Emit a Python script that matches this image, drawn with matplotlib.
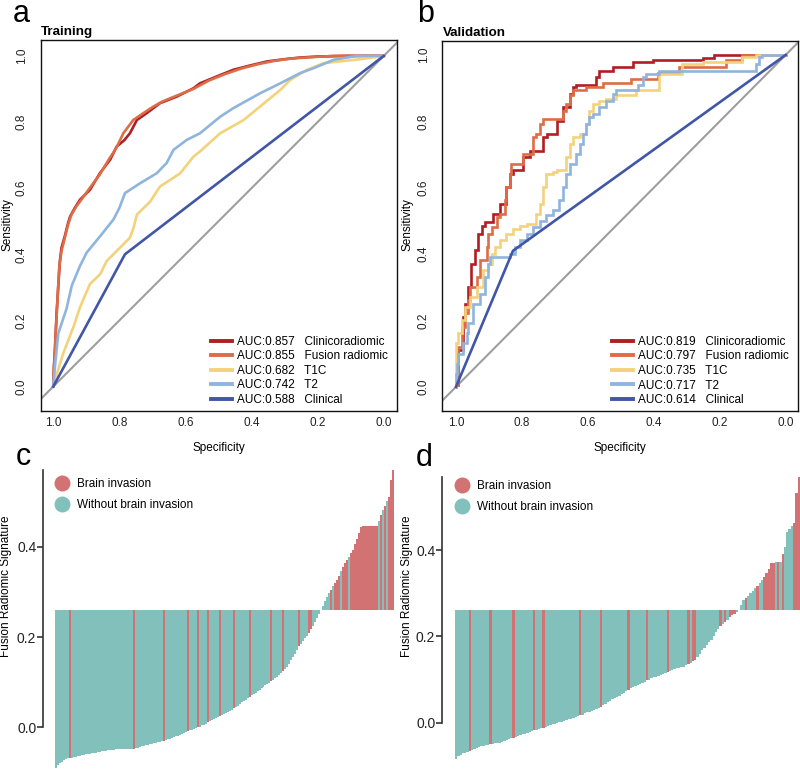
import numpy as np
import matplotlib
matplotlib.use("Agg")
import matplotlib.pyplot as plt
from matplotlib.lines import Line2D

plt.rcParams['font.family'] = ['Liberation Sans', 'DejaVu Sans']

# ---------------- ROC data (specificity, sensitivity) ----------------
roc_names = ["Clinicoradiomic", "Fusion radiomic", "T1C", "T2", "Clinical"]
roc_colors = ["#B01E23", "#DE6D47", "#F2D27B", "#8FB5DE", "#4156A6"]

train_auc = [0.857, 0.855, 0.682, 0.742, 0.588]
valid_auc = [0.819, 0.797, 0.735, 0.717, 0.614]

tr_clinrad_spec = [1.0, 0.998, 0.995, 0.99, 0.985, 0.98, 0.975, 0.965, 0.955, 0.949,
                   0.935, 0.919, 0.889, 0.859, 0.828, 0.808, 0.785, 0.768, 0.747, 0.717,
                   0.677, 0.626, 0.576, 0.556, 0.5, 0.455, 0.4, 0.354, 0.3, 0.253,
                   0.2, 0.111, 0.0]
tr_clinrad_sens = [0.0, 0.06, 0.11, 0.22, 0.3, 0.38, 0.42, 0.455, 0.495, 0.514,
                   0.54, 0.565, 0.595, 0.645, 0.686, 0.726, 0.745, 0.766, 0.806, 0.827,
                   0.857, 0.877, 0.902, 0.917, 0.94, 0.958, 0.972, 0.983, 0.99, 0.995,
                   0.998, 1.0, 1.0]
tr_fusion_spec = [1.0, 0.997, 0.993, 0.988, 0.982, 0.975, 0.965, 0.955, 0.945, 0.93,
                  0.915, 0.89, 0.86, 0.83, 0.81, 0.788, 0.758, 0.73, 0.7, 0.67,
                  0.626, 0.576, 0.53, 0.48, 0.43, 0.38, 0.33, 0.28, 0.22, 0.15,
                  0.08, 0.0]
tr_fusion_sens = [0.0, 0.07, 0.15, 0.25, 0.36, 0.41, 0.45, 0.49, 0.52, 0.545,
                  0.565, 0.6, 0.64, 0.69, 0.72, 0.766, 0.806, 0.825, 0.845, 0.862,
                  0.88, 0.9, 0.925, 0.945, 0.962, 0.975, 0.985, 0.992, 0.996, 1.0,
                  1.0, 1.0]
tr_t1c_spec = [1.0, 0.995, 0.97, 0.939, 0.919, 0.889, 0.858, 0.838, 0.798, 0.768,
               0.757, 0.747, 0.707, 0.677, 0.646, 0.616, 0.576, 0.556, 0.495, 0.424,
               0.374, 0.313, 0.283, 0.232, 0.182, 0.07, 0.0]
tr_t1c_sens = [0.0, 0.02, 0.1, 0.18, 0.24, 0.31, 0.34, 0.38, 0.42, 0.45,
               0.48, 0.52, 0.559, 0.605, 0.625, 0.645, 0.695, 0.711, 0.766, 0.806,
               0.847, 0.897, 0.927, 0.958, 0.978, 0.99, 1.0]
tr_t2_spec = [1.0, 0.995, 0.985, 0.96, 0.944, 0.919, 0.899, 0.858, 0.818, 0.8,
              0.783, 0.737, 0.687, 0.657, 0.636, 0.596, 0.556, 0.495, 0.455, 0.374,
              0.313, 0.253, 0.212, 0.152, 0.081, 0.0]
tr_t2_sens = [0.0, 0.06, 0.16, 0.235, 0.305, 0.365, 0.405, 0.455, 0.505, 0.54,
              0.585, 0.615, 0.645, 0.676, 0.716, 0.746, 0.766, 0.816, 0.842, 0.887,
              0.917, 0.948, 0.963, 0.988, 1.0, 1.0]
tr_clin_spec = [1.0, 0.783, 0.0]
tr_clin_sens = [0.0, 0.40, 1.0]

va_clinrad_spec = [1.0, 0.993, 0.978, 0.973, 0.963, 0.953, 0.943, 0.933, 0.922, 0.912,
                   0.887, 0.867, 0.867, 0.847, 0.837, 0.827, 0.796, 0.776, 0.736, 0.725,
                   0.695, 0.675, 0.655, 0.645, 0.635, 0.575, 0.565, 0.524, 0.464, 0.403,
                   0.252, 0.217, 0.096, 0.0]
va_clinrad_sens = [0.0, 0.005, 0.11, 0.21, 0.25, 0.30, 0.371, 0.411, 0.461, 0.486,
                   0.496, 0.522, 0.547, 0.552, 0.602, 0.642, 0.652, 0.692, 0.712, 0.752,
                   0.762, 0.802, 0.842, 0.883, 0.903, 0.908, 0.935, 0.953, 0.965, 0.978,
                   0.985, 0.99, 1.0, 1.0]
va_fusion_spec = [1.0, 0.993, 0.983, 0.973, 0.963, 0.958, 0.937, 0.927, 0.907, 0.902,
                  0.892, 0.877, 0.867, 0.852, 0.847, 0.837, 0.832, 0.796, 0.766, 0.756,
                  0.746, 0.736, 0.675, 0.665, 0.655, 0.645, 0.605, 0.555, 0.544, 0.469,
                  0.454, 0.388, 0.323, 0.253, 0.181, 0.131, 0.04, 0.0]
va_fusion_sens = [0.0, 0.005, 0.12, 0.18, 0.221, 0.261, 0.301, 0.331, 0.381, 0.421,
                  0.461, 0.481, 0.511, 0.522, 0.562, 0.602, 0.642, 0.672, 0.702, 0.752,
                  0.762, 0.792, 0.807, 0.832, 0.853, 0.878, 0.893, 0.903, 0.915, 0.915,
                  0.928, 0.928, 0.947, 0.963, 0.963, 0.985, 1.0, 1.0]
va_t1c_spec = [1.0, 0.993, 0.983, 0.973, 0.958, 0.937, 0.917, 0.902, 0.892, 0.882,
               0.867, 0.847, 0.827, 0.806, 0.786, 0.756, 0.746, 0.736, 0.726, 0.706,
               0.695, 0.665, 0.655, 0.645, 0.625, 0.605, 0.595, 0.585, 0.565, 0.544,
               0.514, 0.454, 0.449, 0.383, 0.383, 0.313, 0.252, 0.131, 0.091, 0.04,
               0.0]
va_t1c_sens = [0.0, 0.131, 0.161, 0.201, 0.241, 0.271, 0.301, 0.351, 0.371, 0.401,
               0.421, 0.441, 0.461, 0.476, 0.486, 0.491, 0.522, 0.552, 0.602, 0.642,
               0.647, 0.652, 0.692, 0.732, 0.752, 0.762, 0.792, 0.832, 0.853, 0.862,
               0.868, 0.878, 0.893, 0.893, 0.928, 0.943, 0.973, 0.978, 0.993, 1.0,
               1.0]
va_t2_spec = [1.0, 0.998, 0.993, 0.978, 0.968, 0.963, 0.948, 0.927, 0.912, 0.902,
              0.897, 0.857, 0.837, 0.821, 0.806, 0.786, 0.766, 0.746, 0.726, 0.706,
              0.686, 0.675, 0.665, 0.655, 0.635, 0.625, 0.615, 0.605, 0.595, 0.585,
              0.565, 0.544, 0.524, 0.514, 0.449, 0.434, 0.423, 0.383, 0.323, 0.091,
              0.081, 0.071, 0.02, 0.0]
va_t2_sens = [0.0, 0.04, 0.07, 0.1, 0.131, 0.161, 0.191, 0.251, 0.281, 0.331,
              0.371, 0.391, 0.391, 0.401, 0.421, 0.441, 0.461, 0.481, 0.501, 0.517,
              0.532, 0.562, 0.602, 0.642, 0.672, 0.702, 0.732, 0.762, 0.792, 0.812,
              0.822, 0.842, 0.862, 0.883, 0.893, 0.908, 0.933, 0.943, 0.953, 0.953,
              0.973, 0.993, 1.0, 1.0]
va_clin_spec = [1.0, 0.827, 0.0]
va_clin_sens = [0.0, 0.41, 1.0]

roc_ticks = [1.0, 0.8, 0.6, 0.4, 0.2, 0.0]

# ---------------- Waterfall data ----------------
legend_groups = ["Brain invasion", "Without brain invasion"]
wf_colors = ["#D27272", "#82C0BC"]

train_cutoff = 0.26
train_score = [
    -0.091, -0.084, -0.079, -0.076, -0.073, -0.071, -0.069, -0.068, -0.067, -0.066,
    -0.065, -0.064, -0.063, -0.062, -0.061, -0.060, -0.060, -0.059, -0.058, -0.057,
    -0.056, -0.055, -0.054, -0.053, -0.052, -0.052, -0.051, -0.051, -0.050, -0.050,
    -0.049, -0.049, -0.049, -0.049, -0.049, -0.049, -0.049, -0.049, -0.048, -0.047,
    -0.046, -0.045, -0.043, -0.042, -0.041, -0.040, -0.039, -0.038, -0.037, -0.035,
    -0.034, -0.033, -0.032, -0.031, -0.030, -0.028, -0.027, -0.025, -0.024, -0.022,
    -0.020, -0.019, -0.017, -0.015, -0.013, -0.011, -0.009, -0.007, -0.005, -0.003,
    -0.001, 0.000, 0.001, 0.004, 0.006, 0.008, 0.011, 0.013, 0.016, 0.018,
    0.021, 0.023, 0.025, 0.027, 0.029, 0.032, 0.034, 0.036, 0.039, 0.042,
    0.045, 0.048, 0.051, 0.055, 0.058, 0.061, 0.064, 0.068, 0.071, 0.074,
    0.077, 0.080, 0.083, 0.087, 0.090, 0.093, 0.097, 0.099, 0.102, 0.105,
    0.109, 0.112, 0.116, 0.120, 0.124, 0.129, 0.134, 0.141, 0.148, 0.156,
    0.163, 0.171, 0.179, 0.185, 0.191, 0.197, 0.203, 0.208, 0.217, 0.225,
    0.234, 0.243, 0.252, 0.260, 0.269, 0.279, 0.288, 0.297, 0.304, 0.312,
    0.319, 0.326, 0.336, 0.346, 0.356, 0.364, 0.371, 0.378, 0.386, 0.393,
    0.405, 0.418, 0.431, 0.444, 0.445, 0.445, 0.445, 0.445, 0.445, 0.446,
    0.446, 0.446, 0.458, 0.470, 0.481, 0.491, 0.501, 0.511, 0.548, 0.570]
# 1 = brain invasion, 0 = without brain invasion
train_label = (
    "0000000100" "0000000000" "0000000000" "0000000001" "0000000000"
    "0000100000" "0000001000" "0100001000" "0010000001" "0000000100"
    "0000000010" "0000100000" "0010000110" "0000000010" "1110111011"
    "1111111111" "1101010111")
train_label = [int(c) for c in train_label]

valid_cutoff = 0.261
valid_score = [
    -0.084, -0.078, -0.074, -0.071, -0.069, -0.067, -0.065, -0.063, -0.061, -0.059,
    -0.057, -0.055, -0.053, -0.052, -0.051, -0.050, -0.049, -0.048, -0.047, -0.046,
    -0.044, -0.042, -0.040, -0.038, -0.036, -0.035, -0.033, -0.031, -0.029, -0.027,
    -0.025, -0.024, -0.022, -0.020, -0.017, -0.016, -0.015, -0.013, -0.012, -0.010,
    -0.008, -0.005, -0.004, -0.002, -0.001, 0.001, 0.002, 0.004, 0.006, 0.008,
    0.009, 0.011, 0.013, 0.015, 0.017, 0.019, 0.022, 0.024, 0.026, 0.028,
    0.030, 0.032, 0.035, 0.037, 0.041, 0.044, 0.047, 0.051, 0.054, 0.057,
    0.060, 0.063, 0.066, 0.070, 0.073, 0.076, 0.080, 0.083, 0.086, 0.088,
    0.090, 0.093, 0.095, 0.098, 0.100, 0.103, 0.105, 0.107, 0.109, 0.111,
    0.113, 0.115, 0.118, 0.120, 0.122, 0.124, 0.126, 0.127, 0.128, 0.130,
    0.133, 0.136, 0.139, 0.142, 0.145, 0.152, 0.160, 0.168, 0.174, 0.180,
    0.186, 0.192, 0.202, 0.211, 0.217, 0.223, 0.229, 0.234, 0.239, 0.244,
    0.249, 0.253, 0.257, 0.262, 0.273, 0.284, 0.289, 0.294, 0.300, 0.305,
    0.311, 0.317, 0.323, 0.331, 0.338, 0.346, 0.357, 0.369, 0.371, 0.372,
    0.373, 0.373, 0.390, 0.408, 0.442, 0.448, 0.455, 0.462, 0.531, 0.570]
valid_label = (
    "0000001000" "0000010000" "0000010000" "0000100010" "0000000000"
    "0000100000" "0001000000" "0000010000" "0001000000" "0010000000"
    "0101100000" "0000010101" "1100001000" "0100111110" "1010000111")
valid_label = [int(c) for c in valid_label]

# ---------------- Figure ----------------
W, H = 800, 770
fig = plt.figure(figsize=(W / 100, H / 100), dpi=100)


def fx(px):
    return px / W


def fy(py):
    return 1 - py / H


def add_ax(l, t, r, b):
    return fig.add_axes([fx(l), fy(b), fx(r) - fx(l), (b - t) / H])


ax_a = add_ax(40.7, 40, 397, 410.7)
ax_b = add_ax(442.3, 40.7, 798, 410.7)
ax_c = add_ax(43.3, 465, 396, 770)
ax_d = add_ax(442.3, 465, 800, 770)

GRAY = "#9E9E9E"


def draw_roc(ax, curves, aucs, steps, xlim, ylim):
    ax.axline((1, 0), (0, 1), color=GRAY, lw=1.5, zorder=1)
    for i, (spec, sens) in enumerate(curves):
        ds = 'steps-pre' if (steps and roc_names[i] != "Clinical") else 'default'
        ax.plot(spec, sens, color=roc_colors[i], lw=1.9, drawstyle=ds,
                solid_joinstyle='miter', zorder=2 + i,
                label=f"AUC:{aucs[i]:.3f}   {roc_names[i]}")
    ax.set_xlim(*xlim)
    ax.set_ylim(*ylim)
    ax.set_xticks(roc_ticks)
    ax.set_yticks(roc_ticks)
    ax.set_xticklabels([f"{t:.1f}" for t in roc_ticks])
    ax.set_yticklabels([f"{t:.1f}" for t in roc_ticks], rotation=90,
                       va='center', ha='center')
    ax.tick_params(axis='both', length=0, labelsize=8.5, colors='#222222')
    ax.tick_params(axis='x', pad=4.5)
    ax.tick_params(axis='y', pad=13.5)
    for s in ax.spines.values():
        s.set_linewidth(1.0)
        s.set_color('#111111')
    leg = ax.legend(loc='upper left', bbox_to_anchor=(0.478, 0.2025), frameon=False,
                    fontsize=8.5, handlelength=1.78, handletextpad=0.42,
                    labelspacing=0.22, borderpad=0, borderaxespad=0)
    for h in leg.get_lines():
        h.set_linewidth(2.8)


draw_roc(ax_a,
         [(tr_clinrad_spec, tr_clinrad_sens), (tr_fusion_spec, tr_fusion_sens),
          (tr_t1c_spec, tr_t1c_sens), (tr_t2_spec, tr_t2_sens),
          (tr_clin_spec, tr_clin_sens)],
         train_auc, False, (1.038, -0.04), (-0.073, 1.048))
draw_roc(ax_b,
         [(va_clinrad_spec, va_clinrad_sens), (va_fusion_spec, va_fusion_sens),
          (va_t1c_spec, va_t1c_sens), (va_t2_spec, va_t2_sens),
          (va_clin_spec, va_clin_sens)],
         valid_auc, True, (1.0415, -0.0375), (-0.072, 1.043))


def draw_waterfall(ax, score, label, cutoff, xlim, ylim, leg_xy, top_bound):
    score = np.asarray(score)
    idx = np.arange(len(score))
    cols = [wf_colors[0] if l == 1 else wf_colors[1] for l in label]
    ax.bar(idx, score - cutoff, bottom=cutoff, width=1.0, color=cols,
           linewidth=0)
    ax.set_xlim(*xlim)
    ax.set_ylim(*ylim)
    for k in ['top', 'right', 'bottom']:
        ax.spines[k].set_visible(False)
    ax.spines['left'].set_bounds(0.0, top_bound)
    ax.spines['left'].set_linewidth(1.2)
    ax.spines['left'].set_color('#333333')
    ax.set_xticks([])
    ax.set_yticks([0.0, 0.2, 0.4])
    ax.set_yticklabels(["0.0", "0.2", "0.4"])
    ax.tick_params(axis='y', length=4, width=1.2, color='#333333',
                   labelsize=10, pad=1, labelcolor='#222222')
    handles = [Line2D([], [], marker='o', ls='', ms=11.5, color=c,
                      markeredgewidth=0) for c in wf_colors]
    ax.legend(handles, legend_groups, loc='upper left', bbox_to_anchor=leg_xy,
              frameon=False, fontsize=8.5, handlelength=1.0, handletextpad=0.82,
              labelspacing=0.75, borderpad=0, borderaxespad=0)


draw_waterfall(ax_c, train_score, train_label, train_cutoff,
               (-6.35, 170.4), (-0.0946, 0.581), (0.0354, 0.957), 0.57)
draw_waterfall(ax_d, valid_score, valid_label, valid_cutoff,
               (-6.02, 149.5), (-0.1095, 0.597), (0.0377, 0.951), 0.57)

# ---------------- Texts ----------------
fig.text(fx(13), fy(22), "a", fontsize=22, va='baseline', ha='left')
fig.text(fx(417), fy(22), "b", fontsize=22, va='baseline', ha='left')
fig.text(fx(16), fy(465), "c", fontsize=22, va='baseline', ha='left')
fig.text(fx(416), fy(466.5), "d", fontsize=22, va='baseline', ha='left')

fig.text(fx(40.7), fy(35.5), "Training", fontsize=9.6, fontweight='bold',
         va='baseline', ha='left')
fig.text(fx(442.5), fy(36), "Validation", fontsize=9.6, fontweight='bold',
         va='baseline', ha='left')

fig.text(fx(7.5), fy(225), "Sensitivity", rotation=90, fontsize=8.5,
         ha='center', va='center')
fig.text(fx(407.5), fy(225), "Sensitivity", rotation=90, fontsize=8.5,
         ha='center', va='center')
fig.text(fx(218.8), fy(448), "Specificity", fontsize=8.5, ha='center', va='center')
fig.text(fx(620), fy(448), "Specificity", fontsize=8.5, ha='center', va='center')

fig.text(fx(6.5), fy(586), "Fusion Radiomic Signature", rotation=90, fontsize=8.5,
         ha='center', va='center')
fig.text(fx(406.5), fy(586), "Fusion Radiomic Signature", rotation=90, fontsize=8.5,
         ha='center', va='center')

fig.savefig("out.png", dpi=100)
